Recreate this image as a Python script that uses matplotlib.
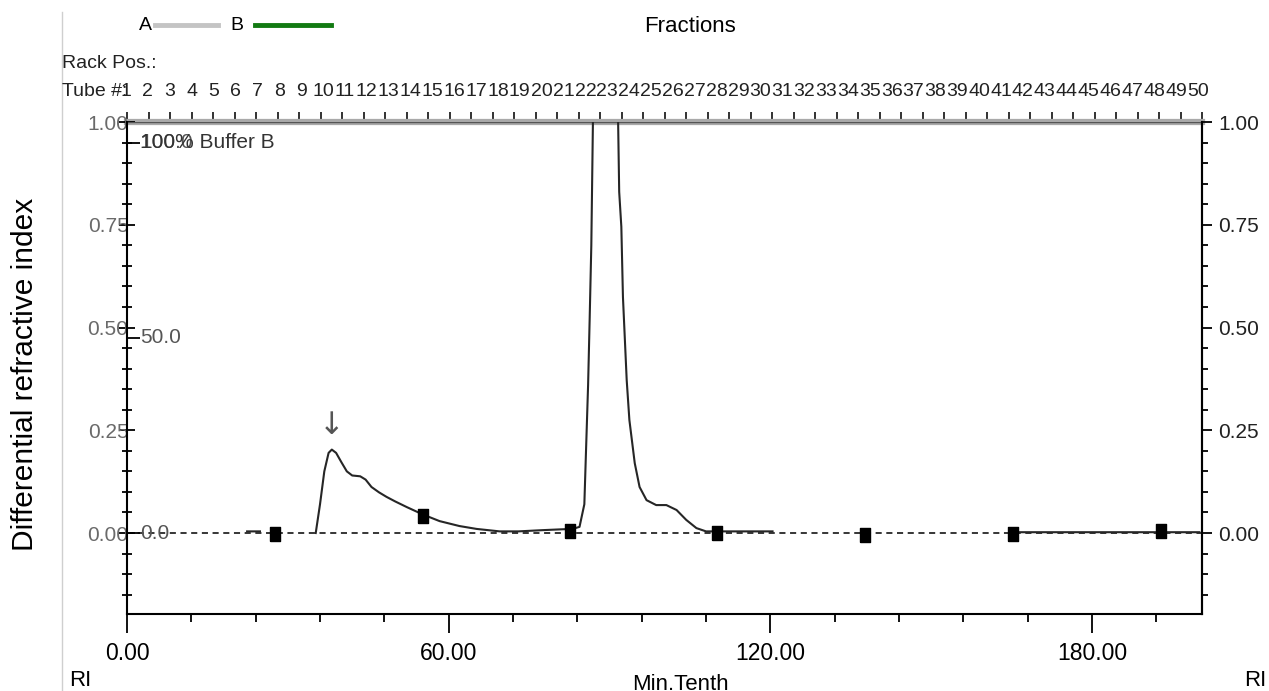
import numpy as np
import matplotlib.pyplot as plt
from matplotlib.ticker import MultipleLocator, FixedLocator, NullFormatter

plt.rcParams['font.family'] = ['Liberation Sans', 'DejaVu Sans']

W, H = 1269, 691

# RI detector trace (time in min tenth, signal in RI units); NaN = pen up
ri_time = [22.4, 24.8, np.nan,
           35.2, 36.0, 36.8, 37.6, 38.2, 39.0, 40.0, 41.0, 42.0, 43.5, 44.5,
           45.6, 47.0, 48.4, 50.0, 52.2, 55.2, 58.3, 62.0, 65.2, 69.5, 73.0,
           77.5, 81.0, 83.1, 84.4, 85.3, 85.6, 86.0, 86.3, 86.6, 86.9, 87.5,
           89.0, 90.5, 91.3, 91.6, 91.8, 92.2, 92.5, 93.2, 93.7, 94.7, 95.6,
           96.9, 98.7, 100.6, 102.5, 104.3, 106.2, 108.0, 112.0, 116.0, 120.4,
           np.nan,
           165.3, 172.0, 180.0, 188.0, 195.0, 200.0]
ri_signal = [0.004, 0.004, np.nan,
             0.000, 0.070, 0.150, 0.195, 0.203, 0.195, 0.172, 0.150, 0.140,
             0.138, 0.130, 0.112, 0.099, 0.088, 0.077, 0.063, 0.045, 0.029,
             0.017, 0.010, 0.004, 0.004, 0.007, 0.009, 0.010, 0.015, 0.070,
             0.195, 0.360, 0.525, 0.700, 1.000, 1.350, 1.600, 1.500, 1.200,
             1.000, 0.830, 0.745, 0.574, 0.372, 0.275, 0.170, 0.112, 0.080,
             0.068, 0.068, 0.056, 0.032, 0.012, 0.004, 0.004, 0.004, 0.004,
             np.nan,
             0.002, 0.002, 0.002, 0.002, 0.002, 0.002]

# fraction collector event marks
mark_time = [27.6, 55.3, 82.7, 110.1, 137.7, 165.3, 192.8]
mark_signal = [-0.003, 0.042, 0.006, 0.000, -0.004, -0.002, 0.004]

# axis ranges / ticks
x_range = (0, 200.5)
ri_range = (-0.197, 1.0)
x_major = [0, 60, 120, 180]
x_labels = ['0.00', '60.00', '120.00', '180.00']
ri_major = [0.0, 0.25, 0.5, 0.75, 1.0]
ri_labels = ['0.00', '0.25', '0.50', '0.75', '1.00']
pct_b_ticks = [0, 50, 100]
pct_b_labels = ['0.0', '50.0', '100.0']
pct_b_per_ri = 100 / 0.95       # 100 %B sits at 0.95 RI

tube_numbers = list(range(1, 51))
tube_width = 4.01
tube_label_step = 4.08


def fx(px):
    return px / W


def fy(py):
    return 1 - py / H


fig = plt.figure(figsize=(W / 100, H / 100), dpi=100)
fig.patch.set_facecolor('white')

ax = fig.add_axes([fx(127), fy(614), fx(1202 - 127), (614 - 122) / H])
ax.set_xlim(*x_range)
ax.set_ylim(*ri_range)

# baseline and trace
ax.axhline(0, color='black', lw=1.1, ls=(0, (4, 3)), zorder=1)
ax.plot(ri_time, ri_signal, color='#262626', lw=1.5, zorder=3)
rect = [(-0.33, -0.5), (0.33, -0.5), (0.33, 0.5), (-0.33, 0.5), (-0.33, -0.5)]
ax.plot(mark_time, mark_signal, ls='none', marker=rect, ms=10,
        color='black', zorder=4)

# arrow over the first peak
ax.text(38.2, 0.262, '\u2193', ha='center', va='center', fontsize=22,
        color='#555555', family=['DejaVu Sans'])

# spines
for side in ['left', 'right', 'bottom']:
    ax.spines[side].set_color('black')
    ax.spines[side].set_linewidth(1.5)
ax.spines['top'].set_visible(False)

# bottom axis
ax.xaxis.set_major_locator(FixedLocator(x_major))
ax.set_xticklabels(x_labels)
ax.xaxis.set_minor_locator(MultipleLocator(12))
ax.tick_params(axis='x', which='major', direction='out', length=13.5, width=1.3,
               labelsize=16.5, pad=7, colors='black')
ax.tick_params(axis='x', which='minor', direction='out', length=6, width=1.3)

# left RI axis
ax.yaxis.set_major_locator(FixedLocator(ri_major))
ax.set_yticklabels(ri_labels)
ax.yaxis.set_minor_locator(MultipleLocator(0.05))
ax.tick_params(axis='y', which='major', direction='inout', length=12, width=1.3,
               labelsize=15, labelcolor='#6a6a6a', pad=-7)
ax.tick_params(axis='y', which='minor', direction='inout', length=7, width=1.3)

# right RI axis
ax_r = ax.twinx()
ax_r.set_ylim(*ri_range)
ax_r.yaxis.set_major_locator(FixedLocator(ri_major))
ax_r.set_yticklabels(ri_labels)
ax_r.yaxis.set_minor_locator(MultipleLocator(0.05))
ax_r.tick_params(axis='y', which='major', direction='out', length=7.5, width=1.3,
                 labelsize=15, pad=4, labelcolor='#222222')
ax_r.tick_params(axis='y', which='minor', direction='out', length=4.5, width=1.3)
for side in ['left', 'top', 'bottom']:
    ax_r.spines[side].set_visible(False)
ax_r.spines['right'].set_linewidth(1.5)

# %B gradient scale, inner side of left spine
ax_b = ax.twinx()
ax_b.set_ylim(ri_range[0] * pct_b_per_ri, ri_range[1] * pct_b_per_ri)
ax_b.yaxis.set_ticks_position('left')
ax_b.yaxis.set_major_locator(FixedLocator(pct_b_ticks))
ax_b.yaxis.set_major_formatter(NullFormatter())
ax_b.tick_params(axis='y', which='major', direction='in', length=9, width=1.3)
for side in ax_b.spines:
    ax_b.spines[side].set_visible(False)
for val, lab in zip(pct_b_ticks, pct_b_labels):
    ax_b.text(0.012, val, lab, transform=ax_b.get_yaxis_transform(),
              ha='left', va='center', fontsize=15, color='#555555')
ax_b.text(0.012, 100, '100% Buffer B', transform=ax_b.get_yaxis_transform(),
          ha='left', va='center', fontsize=15, color='#333333')

# fraction ticks along the top
sec = ax.secondary_xaxis('top')
sec.xaxis.set_major_locator(FixedLocator([x_range[1] - tube_width * k
                                          for k in range(51)]))
sec.xaxis.set_major_formatter(NullFormatter())
sec.tick_params(axis='x', direction='out', length=7, width=1.3, colors='#222222')
sec.spines['top'].set_color('#a9a9a9')
sec.spines['top'].set_linewidth(4.5)
ax.axhline(ri_range[1], color='#555555', lw=1.0, zorder=2)

tube_trans = ax.get_xaxis_transform()
for n in tube_numbers:
    ax.text(3.9 + tube_label_step * (n - 2), 1.061, str(n), transform=tube_trans,
            ha='center', va='center', fontsize=14, color='#222222',
            clip_on=False)

# header texts
fig.text(fx(62), fy(92), 'Tube #:', ha='left', va='center', fontsize=14,
         color='#222222')
fig.text(fx(62), fy(63), 'Rack Pos.:', ha='left', va='center', fontsize=14,
         color='#222222')
fig.text(fx(145), fy(25), 'A', ha='center', va='center', fontsize=14)
fig.text(fx(237), fy(25), 'B', ha='center', va='center', fontsize=14)
fig.add_artist(plt.Line2D([fx(155), fx(218)], [fy(25), fy(25)],
                          color='#c4c4c4', lw=3.5))
fig.add_artist(plt.Line2D([fx(255), fx(331)], [fy(25), fy(25)],
                          color='#127a12', lw=3.5))
fig.text(fx(690), fy(27), 'Fractions', ha='center', va='center', fontsize=16)

# footer texts
fig.text(fx(80), fy(680), 'RI', ha='center', va='center', fontsize=16)
fig.text(fx(1255), fy(680), 'RI', ha='center', va='center', fontsize=16)
fig.text(fx(680), fy(684), 'Min.Tenth', ha='center', va='center', fontsize=16)

# panel edge and y label
fig.add_artist(plt.Line2D([fx(62), fx(62)], [fy(12), fy(691)],
                          color='#cfcfcf', lw=1.0))
fig.text(fx(25), fy(374), 'Differential refractive index', rotation=90,
         ha='center', va='center', fontsize=21.5, color='black',
         bbox=dict(facecolor='white', edgecolor='none', pad=4))

fig.savefig('out.png', dpi=100)
